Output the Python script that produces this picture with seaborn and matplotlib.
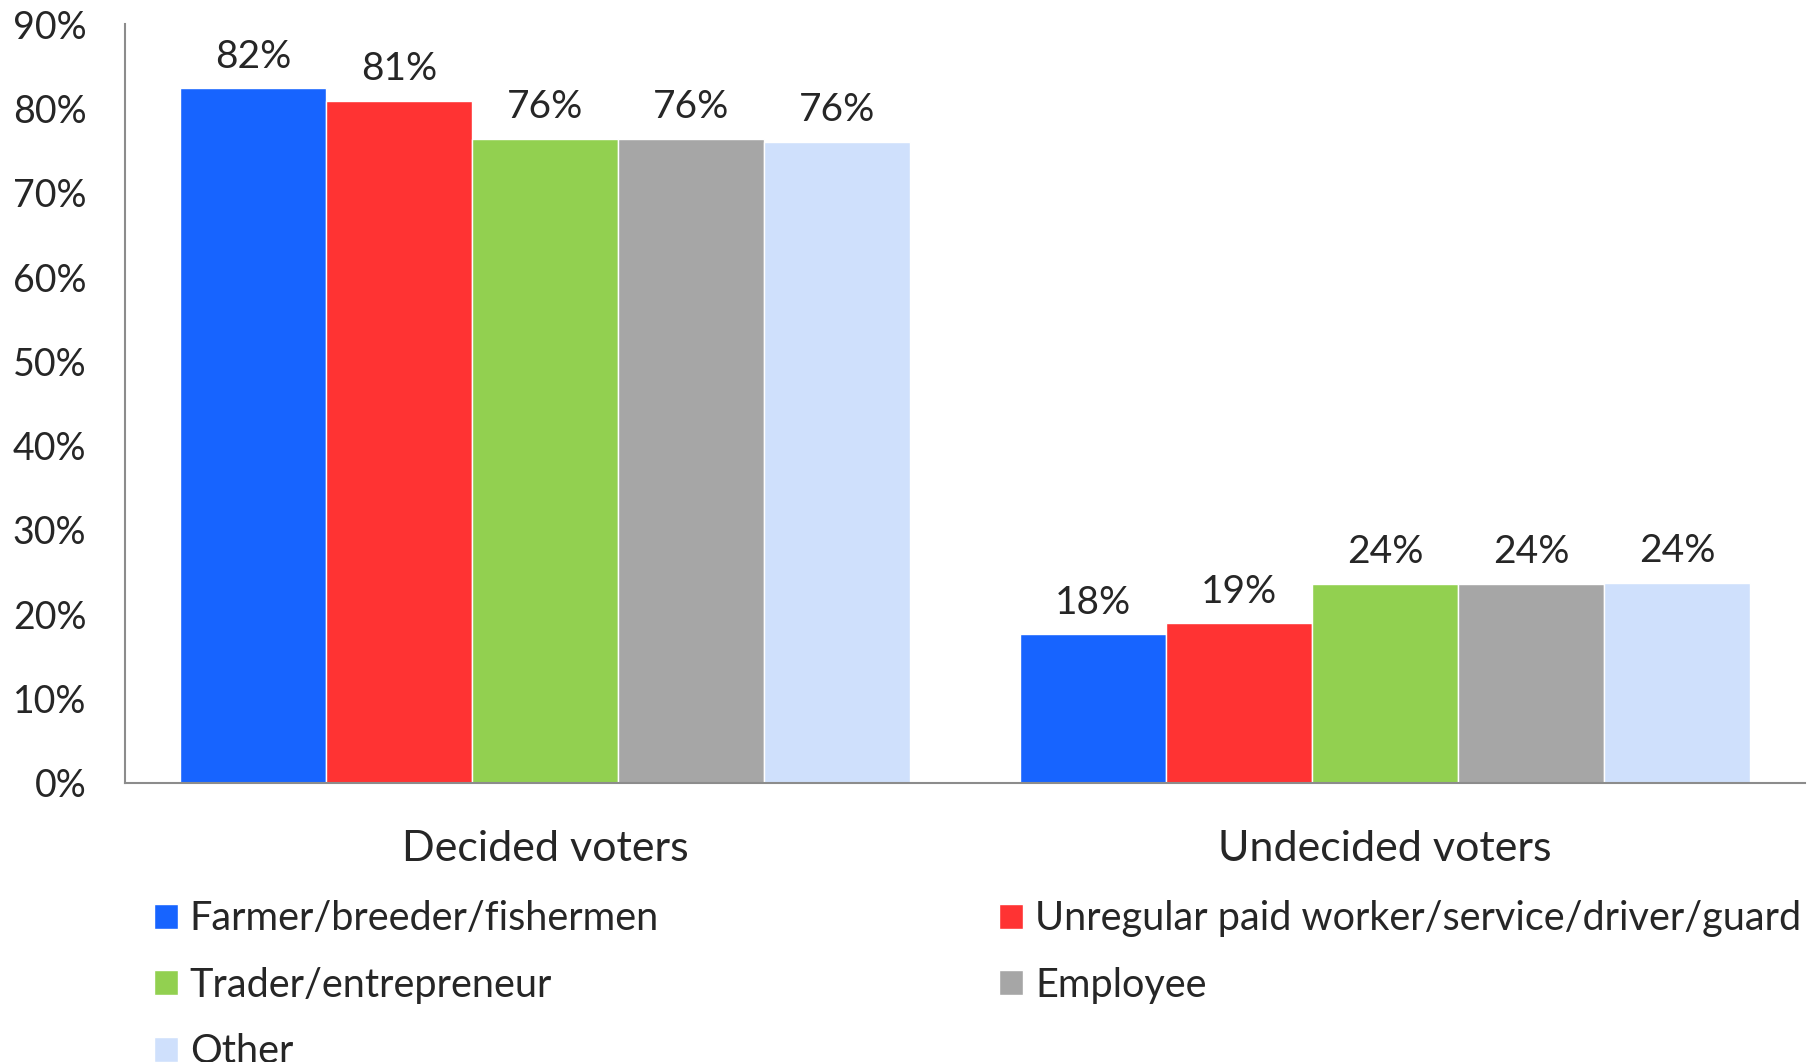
import matplotlib
matplotlib.use("Agg")
import matplotlib.pyplot as plt
from matplotlib.patches import Patch
import seaborn as sns
import pandas as pd

groups = ["Decided voters", "Undecided voters"]
occupations = ["Farmer/breeder/fishermen",
               "Unregular paid worker/service/driver/guard",
               "Trader/entrepreneur", "Employee", "Other"]
decided = [82.4, 80.9, 76.4, 76.4, 76.1]
undecided = [17.6, 18.9, 23.6, 23.6, 23.7]
colors = ["#1764FF", "#FF3333", "#92D050", "#A6A6A6", "#CFE0FC"]
yticks = [0, 10, 20, 30, 40, 50, 60, 70, 80, 90]

rows = []
for occ, d, u in zip(occupations, decided, undecided):
    rows.append({"group": groups[0], "occupation": occ, "share": d})
    rows.append({"group": groups[1], "occupation": occ, "share": u})
df = pd.DataFrame(rows)

sns.set_style("white")
plt.rcParams["font.family"] = ["Lato", "DejaVu Sans"]

fig = plt.figure(figsize=(18.14, 10.62), dpi=100)
ax = fig.add_axes([0.069, 0.263, 0.926, 0.714])

sns.barplot(data=df, x="group", y="share", hue="occupation", order=groups,
            hue_order=occupations, palette=colors, saturation=1,
            width=0.87, gap=0, legend=False, ax=ax)

for cont in ax.containers:
    ax.bar_label(cont, labels=[f"{v:.0f}%" for v in cont.datavalues],
                 padding=10, fontsize=28)

ax.set_ylim(0, 90)
ax.set_yticks(yticks)
ax.set_yticklabels([f"{t}%" for t in yticks], fontsize=27)
ax.set_xlim(-0.5, 1.5)
ax.tick_params(axis="x", length=0, pad=34, labelsize=31)
ax.tick_params(axis="y", length=0, pad=28)
ax.set_xlabel("")
ax.set_ylabel("")
for side in ["top", "right"]:
    ax.spines[side].set_visible(False)
for side in ["left", "bottom"]:
    ax.spines[side].set_color("#8C8C8C")
    ax.spines[side].set_linewidth(1.5)

# row-major order for a 2-column legend
order = [0, 2, 4, 1, 3]
handles = [Patch(facecolor=colors[i], label=occupations[i]) for i in order]
fig.legend(handles=handles, ncol=2, loc="upper left",
           bbox_to_anchor=(0.085, 0.1525), frameon=False, fontsize=28.5,
           handlelength=0.6, handleheight=0.6, handletextpad=0.3,
           columnspacing=8.6, labelspacing=0.75, borderaxespad=0,
           borderpad=0)

fig.savefig("out.png", dpi=100)
